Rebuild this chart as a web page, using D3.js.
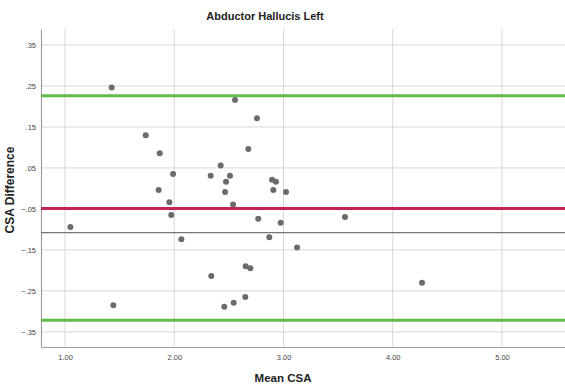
<!DOCTYPE html>
<html>
<head>
<meta charset="utf-8">
<script src="https://cdn.jsdelivr.net/npm/d3@7"></script>
<style>
  body { margin: 0; background: #fff; }
  svg { display: block; font-family: "Liberation Sans", Arial, sans-serif; }
</style>
</head>
<body>
<div id="chart"></div>
<script>
// Bland-Altman points
const meanCSA = [1.427, 2.556, 2.757, 1.739, 1.867, 2.678, 2.425, 1.989, 2.333, 2.510,
  2.474, 2.895, 2.931, 1.857, 2.465, 2.907, 3.023, 1.955, 2.538, 1.973,
  2.769, 2.974, 3.563, 1.049, 2.065, 2.870, 3.124, 2.339, 2.654, 2.696,
  4.268, 1.442, 2.458, 2.544, 2.650];
const diffCSA = [0.246, 0.216, 0.171, 0.130, 0.086, 0.096, 0.056, 0.035, 0.031, 0.031,
  0.016, 0.021, 0.016, -0.004, -0.009, -0.004, -0.009, -0.034, -0.039, -0.065,
  -0.074, -0.084, -0.070, -0.094, -0.124, -0.119, -0.144, -0.214, -0.190, -0.195,
  -0.230, -0.285, -0.289, -0.279, -0.265];

const xTicks = [1, 2, 3, 4, 5];
const yTicks = [0.35, 0.25, 0.15, 0.05, -0.05, -0.15, -0.25, -0.35];

const upperLoA = 0.226;
const meanDiff = -0.049;
const refLine = -0.108;
const lowerLoA = -0.322;

const W = 565, H = 388;
const margin = {top: 29, right: 0, bottom: 41, left: 41};

const svg = d3.select('#chart').append('svg')
  .attr('width', W)
  .attr('height', H);

const x = d3.scaleLinear()
  .domain([0.78, 5.577])
  .range([margin.left, W - margin.right]);
const y = d3.scaleLinear()
  .domain([-0.387, 0.389])
  .range([H - margin.bottom, margin.top]);

const fmtY = v => d3.format('.2f')(v).replace('0.', '.');

// gridlines
svg.append('g')
  .selectAll('line.h')
  .data(yTicks)
  .enter().append('line')
  .attr('x1', margin.left).attr('x2', W)
  .attr('y1', d => y(d)).attr('y2', d => y(d))
  .attr('stroke', '#d8d8d8').attr('stroke-width', 1);

svg.append('g')
  .selectAll('line.v')
  .data(xTicks)
  .enter().append('line')
  .attr('x1', d => x(d)).attr('x2', d => x(d))
  .attr('y1', margin.top).attr('y2', H - margin.bottom)
  .attr('stroke', '#d8d8d8').attr('stroke-width', 1);

// axes
const yAxis = d3.axisLeft(y).tickValues(yTicks).tickFormat(fmtY).tickSize(0).tickPadding(5);
const gy = svg.append('g')
  .attr('transform', 'translate(' + margin.left + ',0)')
  .call(yAxis);
gy.select('.domain').attr('stroke', '#a0a0a0').attr('stroke-width', 1.2);
gy.selectAll('text').attr('fill', '#444').style('font-size', '7.5px');

const xAxis = d3.axisBottom(x).tickValues(xTicks).tickFormat(d3.format('.2f')).tickSize(0).tickPadding(8);
const gx = svg.append('g')
  .attr('transform', 'translate(0,' + (H - margin.bottom) + ')')
  .call(xAxis);
gx.select('.domain').attr('stroke', '#a0a0a0').attr('stroke-width', 1.2);
gx.selectAll('text').attr('fill', '#444').style('font-size', '7.5px');

// reference lines
svg.append('line')
  .attr('x1', margin.left).attr('x2', W)
  .attr('y1', y(refLine)).attr('y2', y(refLine))
  .attr('stroke', '#777').attr('stroke-width', 1.2);

[upperLoA, lowerLoA].forEach(v => {
  svg.append('line')
    .attr('x1', margin.left).attr('x2', W)
    .attr('y1', y(v)).attr('y2', y(v))
    .attr('stroke', '#62bb4a').attr('stroke-width', 3);
});

svg.append('line')
  .attr('x1', margin.left).attr('x2', W)
  .attr('y1', y(meanDiff)).attr('y2', y(meanDiff))
  .attr('stroke', '#c4244f').attr('stroke-width', 3);

// points
svg.append('g')
  .selectAll('circle')
  .data(meanCSA)
  .enter().append('circle')
  .attr('cx', d => x(d))
  .attr('cy', (d, i) => y(diffCSA[i]))
  .attr('r', 3)
  .attr('fill', '#6b6b6b');

// titles
svg.append('text')
  .attr('x', 265).attr('y', 20)
  .attr('text-anchor', 'middle')
  .style('font-size', '11px').style('font-weight', 'bold')
  .attr('fill', '#222')
  .text('Abductor Hallucis Left');

svg.append('text')
  .attr('x', 283).attr('y', 382)
  .attr('text-anchor', 'middle')
  .style('font-size', '11.5px').style('font-weight', 'bold')
  .attr('fill', '#222')
  .text('Mean CSA');

svg.append('text')
  .attr('transform', 'translate(14,190) rotate(-90)')
  .attr('text-anchor', 'middle')
  .style('font-size', '12px').style('font-weight', 'bold')
  .attr('fill', '#222')
  .text('CSA Difference');
</script>
</body>
</html>
